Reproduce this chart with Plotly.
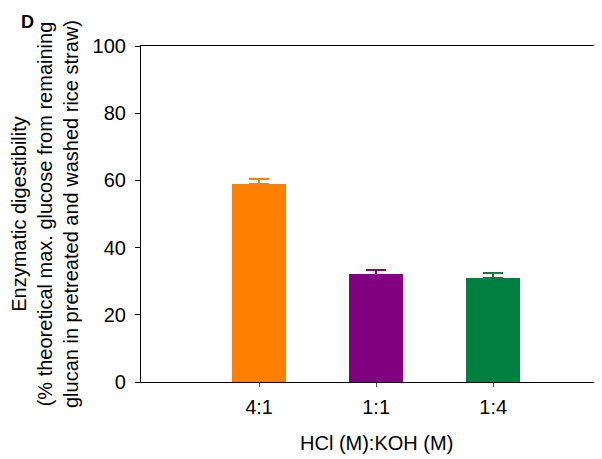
import plotly.graph_objects as go

categories = ["4:1", "1:1", "1:4"]
values = [59.0, 32.0, 31.0]
errors = [1.4, 1.4, 1.5]
colors = ["#FF8000", "#800080", "#008040"]
y_ticks = [0, 20, 40, 60, 80, 100]

FONT = "Liberation Sans, Arial, sans-serif"
FS = 20

# page body has an 8px margin, so the figure is sized to end at the window edge
W, H = 594, 451
L, T, B = 133, 38, 77
PW, PH = W - L, H - T - B

fig = go.Figure()
for c, v, e, col in zip(categories, values, errors, colors):
    fig.add_trace(go.Bar(
        x=[c], y=[v], width=0.46,
        marker=dict(color=col, line=dict(width=0)),
        error_y=dict(type="data", symmetric=False, array=[e], arrayminus=[0],
                     color=col, thickness=1.5, width=10),
        showlegend=False,
    ))

fig.update_layout(
    width=W, height=H,
    margin=dict(l=L, r=0, t=T, b=B, pad=0),
    plot_bgcolor="white", paper_bgcolor="white",
    font=dict(family=FONT, size=FS, color="black"),
    bargap=0,
    xaxis=dict(
        type="category", categoryorder="array", categoryarray=categories,
        range=[-1.009, 2.93],
        showline=True, linecolor="black", linewidth=1.2, mirror=True,
        ticks="outside", ticklen=4, tickcolor="#555", tickwidth=1,
        ticklabelstandoff=3,
        showgrid=False, zeroline=False,
        tickfont=dict(size=FS),
    ),
    yaxis=dict(
        range=[0, 100], tickvals=y_ticks,
        showline=True, linecolor="black", linewidth=1.2,
        ticks="outside", ticklen=5, tickcolor="black", tickwidth=1,
        ticklabelstandoff=5,
        showgrid=False, zeroline=False,
        tickfont=dict(size=FS),
    ),
    annotations=[
        dict(text="Enzymatic digestibility<br>(% theoretical max. glucose from remaining<br>glucan in pretreated and washed rice straw)",
             xref="paper", yref="paper", x=(37 - L) / PW, y=0.5, xanchor="center", yanchor="middle",
             textangle=-90, showarrow=False, font=dict(size=FS, family=FONT)),
        dict(text="HCl (M):KOH (M)", xref="x", yref="paper", x=1, y=(PH - (435 - T)) / PH,
             xanchor="center", yanchor="middle", showarrow=False, font=dict(size=FS, family=FONT)),
        dict(text="<b>D</b>", xref="paper", yref="paper", x=(19 - L) / PW, y=(PH - (14 - T)) / PH,
             xanchor="center", yanchor="middle", showarrow=False, font=dict(size=18, family=FONT)),
    ],
)

fig.write_html("out.html")
